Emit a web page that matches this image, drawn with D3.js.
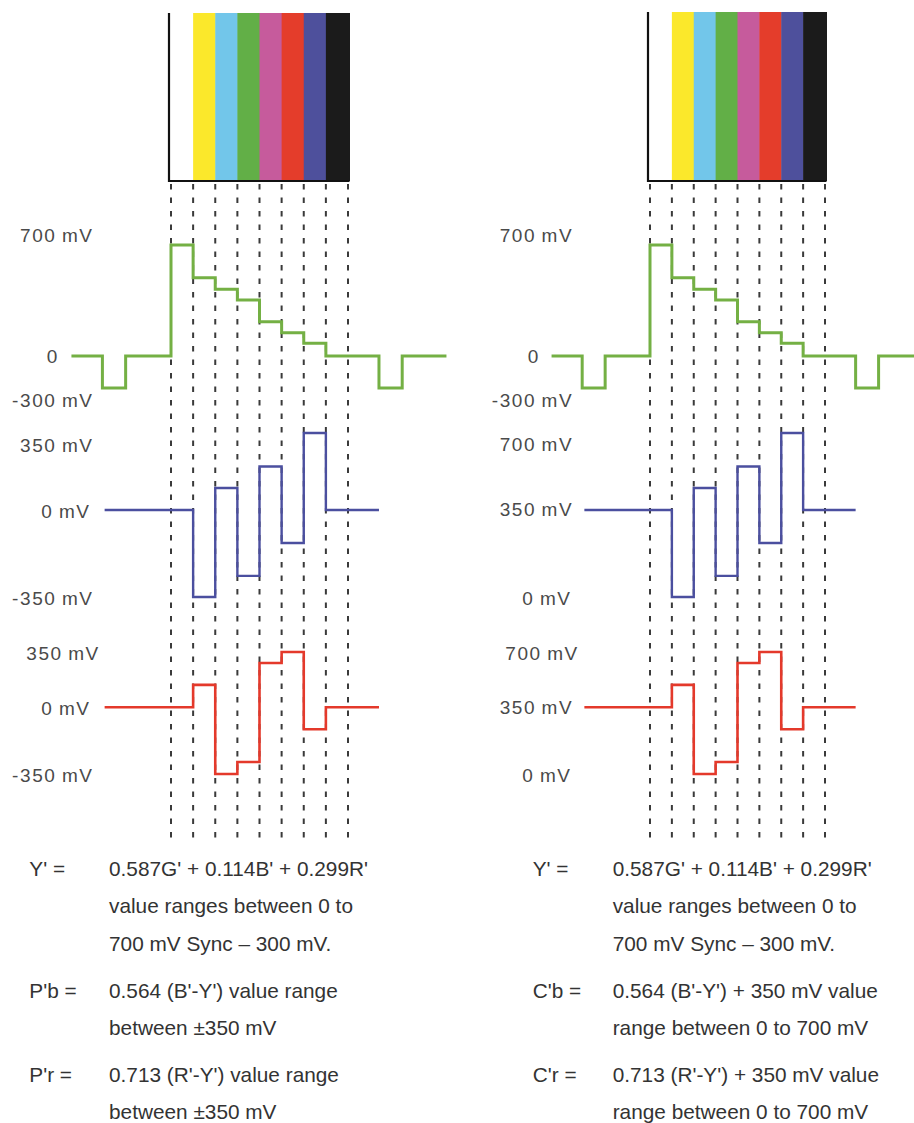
<!DOCTYPE html>
<html><head><meta charset="utf-8">
<script src="https://cdn.jsdelivr.net/npm/d3@7"></script>
<style>html,body{margin:0;padding:0;background:#fff;} svg{display:block;}</style>
</head><body>
<svg id="c" width="914" height="1123"></svg>
<script>
// ---------- data ----------
const barNames  = ["White","Yellow","Cyan","Green","Magenta","Red","Blue","Black"];
const barColors = ["#ffffff","#fbe82b","#72c6ea","#62af47","#c65b9c","#e43d2b","#4e509c","#1b1b1b"];

// time in colour-bar widths (0 = start of white bar), level in mV
const lumaTimes   = [-4.5, -3.1, -2.05, 0, 1, 2, 3, 4, 5, 6, 7, 9.4, 10.45, 12.45];
const lumaValues  = [0, -300, 0, 700, 494, 421, 353, 216, 147, 80, 0, -300, 0, 0];
const chromaTimes = [-3, 0, 1, 2, 3, 4, 5, 6, 7, 9.4];
const pbValues = [0, 0, -350, 100, -265, 198, -133, 350, 0, 0];
const prValues = [0, 0, 142, -350, -287, 280, 350, -115, 0, 0];
const cbValues = [350, 350, 0, 450, 85, 548, 217, 700, 350, 350];
const crValues = [350, 350, 492, 0, 63, 630, 700, 235, 350, 350];

const lumaTicks = [700, 0, -300];
const lumaTickLabels = ["700\u2009mV", "0", "-300\u2009mV"];
const pTicks = [350, 0, -350];
const pTickLabels = ["350\u2009mV", "0\u2009mV", "-350\u2009mV"];
const cTicks = [700, 350, 0];
const cTickLabels = ["700\u2009mV", "350\u2009mV", "0\u2009mV"];

const leftTerms  = ["Y' =", "", "", "P'b =", "", "P'r =", ""];
const leftExprs  = ["0.587G' + 0.114B' + 0.299R'", "value ranges between 0 to", "700 mV Sync \u2013 300 mV.",
                    "0.564 (B'-Y') value range", "between \u00b1350 mV", "0.713 (R'-Y') value range", "between \u00b1350 mV"];
const rightTerms = ["Y' =", "", "", "C'b =", "", "C'r =", ""];
const rightExprs = ["0.587G' + 0.114B' + 0.299R'", "value ranges between 0 to", "700 mV Sync \u2013 300 mV.",
                    "0.564 (B'-Y') + 350 mV value", "range between 0 to 700 mV", "0.713 (R'-Y') + 350 mV value", "range between 0 to 700 mV"];

// ---------- layout ----------
const svg = d3.select("#c");
const labelFont = "'Liberation Sans', Arial, sans-serif";
const textFont = "'Liberation Sans', Arial, sans-serif";

const panels = [
  { x: [171, 348], boxTop: 13, labelShift: 0,
    chromaB: pbValues, chromaR: prValues,
    bTicks: pTicks, bLabels: pTickLabels, bDomain: [-350, 0, 350],
    rTicks: pTicks, rLabels: pTickLabels, rDomain: [-350, 0, 350],
    lumaLab: {endX: [92, 57.3, 92], dy: [-10, 0, 12]},
    bLab: {endX: [92, 89, 92], dy: [12, 0.7, 1]},
    rLab: {endX: [98.3, 89, 92], dy: [1, 1, 1]},
    terms: leftTerms, exprs: leftExprs, termX: 29.3, exprX: 109 },
  { x: [650, 825], boxTop: 12, labelShift: 479.7,
    chromaB: cbValues, chromaR: crValues,
    bTicks: cTicks, bLabels: cTickLabels, bDomain: [0, 350, 700],
    rTicks: cTicks, rLabels: cTickLabels, rDomain: [0, 350, 700],
    lumaLab: {endX: [92, 58.6, 92], dy: [-10, 0, 12]},
    bLab: {endX: [92, 92, 90.3], dy: [11.6, -0.7, 0.7]},
    rLab: {endX: [97.6, 92, 90.3], dy: [1, 0, 1]},
    terms: rightTerms, exprs: rightExprs, termX: 532.7, exprX: 612.7 }
];

const rowCenters = [868, 905, 943.3, 990.5, 1027, 1074.7, 1111.7];

panels.forEach(p => {
  const g = svg.append("g");
  const x = d3.scaleLinear().domain([0, 8]).range(p.x);
  const yLuma = d3.scaleLinear().domain([-300, 0, 700]).range([388, 356, 245]);
  const yB = d3.scaleLinear().domain(p.bDomain).range([597, 510, 433]);
  const yR = d3.scaleLinear().domain(p.rDomain).range([774, 707.3, 652]);

  // colour bars
  const boxL = x(0) - 3, boxR = x(8) + 1.5, boxB = 181;
  g.append("g").selectAll("rect").data(barColors).join("rect")
    .attr("x", (d, i) => i === 0 ? boxL : x(i))
    .attr("width", (d, i) => (i === 7 ? boxR : x(i + 1)) - (i === 0 ? boxL : x(i)) + 0.5)
    .attr("y", p.boxTop).attr("height", boxB - p.boxTop)
    .attr("fill", d => d);
  g.append("path")
    .attr("d", `M${boxL + 1},${p.boxTop} V${boxB} H${boxR}`)
    .attr("fill", "none").attr("stroke", "#111").attr("stroke-width", 2.2);

  // dashed boundary lines
  g.append("g").selectAll("line").data(d3.range(9)).join("line")
    .attr("x1", d => x(d)).attr("x2", d => x(d))
    .attr("y1", 184).attr("y2", 841)
    .attr("stroke", "#3a3a3a").attr("stroke-width", 2)
    .attr("stroke-dasharray", "5.5,8");

  // waveforms
  const lumaPts = lumaTimes.map((t, i) => [t, lumaValues[i]]);
  const bPts = chromaTimes.map((t, i) => [t, p.chromaB[i]]);
  const rPts = chromaTimes.map((t, i) => [t, p.chromaR[i]]);
  const mk = ys => d3.line().x(d => x(d[0])).y(d => ys(d[1])).curve(d3.curveStepAfter);
  g.append("path").attr("d", mk(yLuma)(lumaPts)).attr("fill", "none")
    .attr("stroke", "#74b044").attr("stroke-width", 3).attr("stroke-linejoin", "miter");
  g.append("path").attr("d", mk(yB)(bPts)).attr("fill", "none")
    .attr("stroke", "#4b4f9f").attr("stroke-width", 2.4);
  g.append("path").attr("d", mk(yR)(rPts)).attr("fill", "none")
    .attr("stroke", "#e4392b").attr("stroke-width", 2.6);

  // level labels
  const ls = 1.6;
  const addLabels = (ticks, labels, scale, lab) => {
    g.append("g").selectAll("text").data(ticks).join("text")
      .attr("x", (d, i) => p.labelShift + lab.endX[i] + ls)
      .attr("y", (d, i) => scale(d) + lab.dy[i] + 6.8)
      .attr("text-anchor", "end")
      .attr("font-family", labelFont).attr("font-size", 19)
      .attr("letter-spacing", ls + "px")
      .attr("fill", "#4a4a4a")
      .text((d, i) => labels[i]);
  };
  addLabels(lumaTicks, lumaTickLabels, yLuma, p.lumaLab);
  addLabels(p.bTicks, p.bLabels, yB, p.bLab);
  addLabels(p.rTicks, p.rLabels, yR, p.rLab);

  // formula text
  const tg = g.append("g").attr("font-family", textFont).attr("font-size", 20.8)
    .attr("fill", "#333");
  tg.selectAll("text.term").data(p.terms).join("text").attr("class", "term")
    .attr("x", p.termX).attr("y", (d, i) => rowCenters[i] + 7.5).text(d => d);
  tg.selectAll("text.expr").data(p.exprs).join("text").attr("class", "expr")
    .attr("x", p.exprX).attr("y", (d, i) => rowCenters[i] + 7.5).text(d => d);
});
</script>
</body></html>
